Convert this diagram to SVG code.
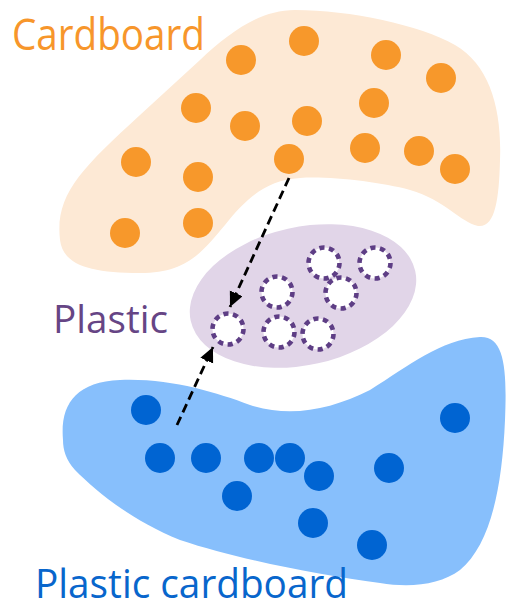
<svg xmlns="http://www.w3.org/2000/svg" width="510" height="609" viewBox="0 0 510 609">
<style>
.lbl{font-family:"Open Sans","Noto Sans","Liberation Sans",sans-serif;}
.cb{fill:#F7982B;}
.pc{fill:#0064D2;}
.pl{fill:#fff;stroke:#5E3E85;stroke-width:4.6;stroke-dasharray:5.2 4.5;}
.conn{fill:none;stroke:#000;stroke-width:2.8;stroke-dasharray:9 5;}
</style>
<defs>
<marker id="ah" markerUnits="userSpaceOnUse" markerWidth="16" markerHeight="16" refX="15" refY="7" orient="auto">
<path d="M0,0 L15,7 L0,14 Z" fill="#000"/>
</marker>
</defs>
<g id="cardboard">
<path d="M60,240 C55,195 80,170 140,115 L200,60 C230,32 260,10 295,10 C350,10 420,25 455,45 C490,65 502,110 500,160 C499,200 495,228 478,226 C460,222 445,200 410,190 C380,182 330,176 300,178 C265,180 245,200 225,225 C200,255 185,273 140,273 C90,273 63,265 60,240 Z" fill="#FDE9D5"/>
<circle class="cb" cx="241" cy="60" r="15"/>
<circle class="cb" cx="304" cy="41" r="15"/>
<circle class="cb" cx="386" cy="55" r="15"/>
<circle class="cb" cx="441" cy="78" r="15"/>
<circle class="cb" cx="196" cy="108" r="15"/>
<circle class="cb" cx="245" cy="126" r="15"/>
<circle class="cb" cx="307" cy="121" r="15"/>
<circle class="cb" cx="374" cy="103" r="15"/>
<circle class="cb" cx="136" cy="162" r="15"/>
<circle class="cb" cx="289" cy="159" r="15"/>
<circle class="cb" cx="365" cy="148" r="15"/>
<circle class="cb" cx="419" cy="151" r="15"/>
<circle class="cb" cx="455" cy="169" r="15"/>
<circle class="cb" cx="198" cy="177" r="15"/>
<circle class="cb" cx="125" cy="233" r="15"/>
<circle class="cb" cx="198" cy="223" r="15"/>
<text class="lbl" x="12" y="50" font-size="44" fill="#F7962B" textLength="193" lengthAdjust="spacingAndGlyphs">Cardboard</text>
</g>
<g id="plastic-cardboard">
<path d="M63,440 C60,405 75,382 120,380 C170,378 215,392 250,405 C290,418 330,410 370,390 C410,365 440,340 480,337 C505,336 507,370 505,420 C502,490 490,545 460,570 C440,585 410,588 380,583 C320,575 240,560 180,540 C130,520 95,490 75,470 C66,460 63,450 63,440 Z" fill="#87BFFC"/>
<circle class="pc" cx="146" cy="410" r="15"/>
<circle class="pc" cx="160" cy="458" r="15"/>
<circle class="pc" cx="206" cy="458" r="15"/>
<circle class="pc" cx="259" cy="458" r="15"/>
<circle class="pc" cx="290" cy="458" r="15"/>
<circle class="pc" cx="319" cy="476" r="15"/>
<circle class="pc" cx="237" cy="496" r="15"/>
<circle class="pc" cx="389" cy="468" r="15"/>
<circle class="pc" cx="455" cy="418" r="15"/>
<circle class="pc" cx="313" cy="523" r="15"/>
<circle class="pc" cx="372" cy="545" r="15"/>
<text class="lbl" x="35" y="598" font-size="41" fill="#0866CC" textLength="313" lengthAdjust="spacingAndGlyphs">Plastic cardboard</text>
</g>
<g id="plastic">
<ellipse cx="303" cy="296" rx="115" ry="69" transform="rotate(-12.6 303 296)" fill="#E1D5E8"/>
<circle class="pl" cx="228" cy="329" r="15.5"/>
<circle class="pl" cx="277" cy="292" r="15.5"/>
<circle class="pl" cx="279" cy="332" r="15.5"/>
<circle class="pl" cx="318" cy="334" r="15.5"/>
<circle class="pl" cx="324" cy="263" r="15.5"/>
<circle class="pl" cx="341" cy="293" r="15.5"/>
<circle class="pl" cx="375" cy="263" r="15.5"/>
<text class="lbl" x="53" y="333" font-size="39" fill="#664585" textLength="115" lengthAdjust="spacingAndGlyphs">Plastic</text>
</g>
<g id="connectors">
<line class="conn" x1="289" y1="178" x2="230" y2="307" marker-end="url(#ah)"/>
<line class="conn" x1="177" y1="425" x2="213" y2="347" marker-end="url(#ah)"/>
</g>
</svg>
